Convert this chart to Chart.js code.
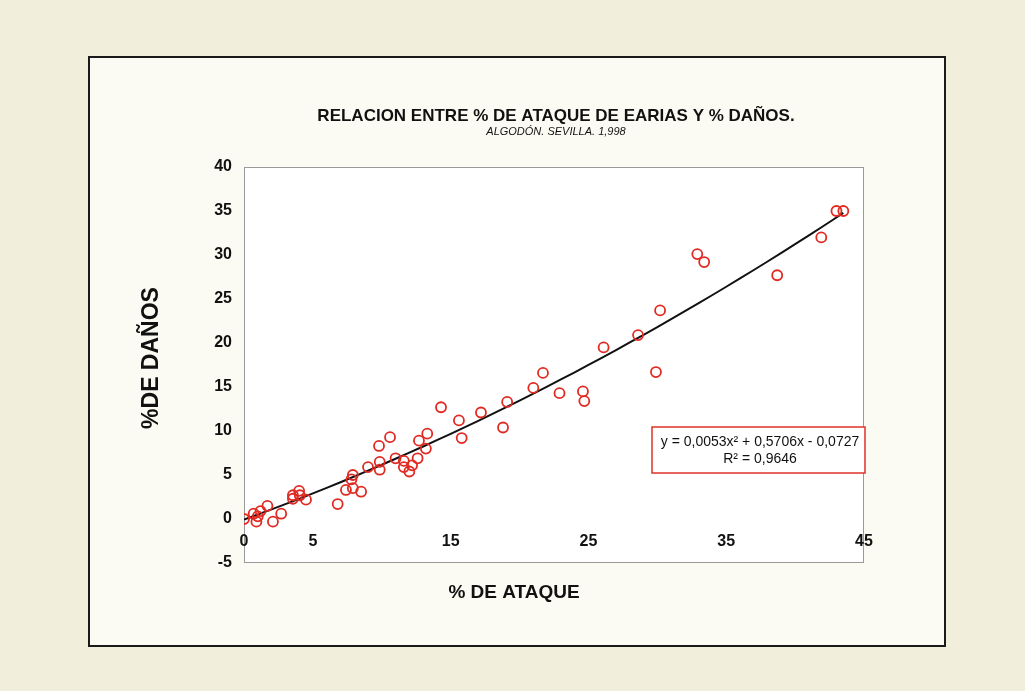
<!DOCTYPE html>
<html>
<head>
<meta charset="utf-8">
<script src="https://cdn.jsdelivr.net/npm/chart.js@4.4.1/dist/chart.umd.min.js"></script>
<style>
  html, body { margin: 0; padding: 0; background: #f1eedb; }
  #wrap { width: 1025px; height: 691px; position: relative; }
  canvas { display: block; }
</style>
</head>
<body>
<div id="wrap"><canvas id="c" width="1025" height="691"></canvas></div>
<script>
// ---- Data ----
const attackPct = [0, 0.7, 0.9, 1.0, 1.2, 1.7, 2.1, 2.7, 3.55, 3.55, 4.0, 4.05, 4.5,
  6.8, 7.4, 7.8, 7.9, 7.9, 8.5, 9.0, 9.8, 9.85, 9.85, 10.6, 11.0, 11.6, 11.6, 12.0,
  12.2, 12.6, 12.7, 13.2, 13.3, 14.3, 15.6, 15.8, 17.2, 18.8, 19.1, 21.0, 21.7, 22.9,
  24.6, 24.7, 26.1, 28.6, 29.9, 30.2, 32.9, 33.4, 38.7, 41.9, 43.0, 43.5];
const damagePct = [0, 0.6, -0.3, 0.3, 0.9, 1.5, -0.3, 0.6, 2.7, 2.3, 3.2, 2.7, 2.2,
  1.7, 3.3, 4.5, 5.0, 3.5, 3.1, 5.9, 8.3, 6.5, 5.6, 9.3, 6.9, 6.6, 5.9, 5.4,
  6.1, 6.9, 8.9, 8.0, 9.7, 12.7, 11.2, 9.2, 12.1, 10.4, 13.3, 14.9, 16.6, 14.3,
  14.5, 13.4, 19.5, 20.9, 16.7, 23.7, 30.1, 29.2, 27.7, 32.0, 35.0, 35.0];
// Trendline shown on the chart: y = 0,0053x² + 0,5706x - 0,0727
const trendCoefs = [0.0053, 0.5706, -0.0727];
const trendX = [0, 2, 4, 6, 8, 10, 12, 14, 16, 18, 20, 22, 24, 26, 28, 30, 32, 34, 36, 38, 40, 42, 43.5];
const xTickValues = [0, 5, 15, 25, 35, 45];
const yTickValues = [-5, 0, 5, 10, 15, 20, 25, 30, 35, 40];
const titleText = 'RELACION ENTRE % DE ATAQUE DE EARIAS Y % DAÑOS.';
const subtitleText = 'ALGODÓN. SEVILLA. 1,998';
const xTitle = '% DE ATAQUE';
const yTitle = '%DE DAÑOS';
const eqLine1 = 'y = 0,0053x² + 0,5706x - 0,0727';
const eqLine2 = 'R² = 0,9646';

const scatterPts = attackPct.map((x, i) => ({ x: x, y: damagePct[i] }));
const trendPts = trendX.map(x => ({ x: x, y: trendCoefs[0] * x * x + trendCoefs[1] * x + trendCoefs[2] }));

const FONT = '"Liberation Sans", Arial, sans-serif';

const decor = {
  id: 'decor',
  beforeDraw(chart) {
    const ctx = chart.ctx;
    const a = chart.chartArea;
    ctx.save();
    ctx.fillStyle = '#f1eedb';
    ctx.fillRect(0, 0, chart.width, chart.height);
    // outer chart frame
    ctx.fillStyle = '#fcfbf3';
    ctx.fillRect(89, 57, 856, 589);
    ctx.strokeStyle = '#1a1a1a';
    ctx.lineWidth = 2;
    ctx.strokeRect(89, 57, 856, 589);
    // plot area
    ctx.fillStyle = '#ffffff';
    ctx.fillRect(a.left, a.top, a.right - a.left, a.bottom - a.top);
    ctx.strokeStyle = '#9a9a9a';
    ctx.lineWidth = 1;
    ctx.strokeRect(a.left + 0.5, a.top + 0.5, a.right - a.left - 1, a.bottom - a.top - 1);
    ctx.restore();
  },
  afterDraw(chart) {
    const ctx = chart.ctx;
    ctx.save();
    ctx.fillStyle = '#111';
    ctx.textAlign = 'center';
    ctx.textBaseline = 'middle';
    ctx.font = 'bold 17px ' + FONT;
    ctx.fillText(titleText, 556, 116);
    ctx.font = 'italic 11px ' + FONT;
    ctx.fillText(subtitleText, 556, 132);
    ctx.font = 'bold 19px ' + FONT;
    ctx.fillText(xTitle, 514, 593);
    ctx.save();
    ctx.translate(152, 358);
    ctx.rotate(-Math.PI / 2);
    ctx.font = 'bold 23px ' + FONT;
    ctx.fillText(yTitle, 0, 0);
    ctx.restore();
    // equation box
    ctx.fillStyle = '#ffffff';
    ctx.fillRect(652, 427, 213, 46);
    ctx.strokeStyle = '#e0302a';
    ctx.lineWidth = 1.5;
    ctx.strokeRect(652, 427, 213, 46);
    ctx.fillStyle = '#111';
    ctx.font = '14px ' + FONT;
    ctx.fillText(eqLine1, 760, 442);
    ctx.fillText(eqLine2, 760, 459);
    ctx.restore();
  }
};

new Chart(document.getElementById('c'), {
  data: {
    datasets: [
      {
        type: 'line',
        label: 'Tendencia',
        data: trendPts,
        borderColor: '#111111',
        borderWidth: 2,
        pointRadius: 0,
        tension: 0.4,
        fill: false,
        order: 2
      },
      {
        type: 'scatter',
        label: 'Datos',
        data: scatterPts,
        pointStyle: 'circle',
        pointRadius: 5,
        pointBorderWidth: 1.8,
        borderColor: '#e02a22',
        backgroundColor: 'rgba(255,255,255,0)',
        order: 1
      }
    ]
  },
  options: {
    responsive: false,
    animation: false,
    devicePixelRatio: 1,
    layout: { padding: { left: 0, top: 167, right: 161, bottom: 128 } },
    plugins: { legend: { display: false }, tooltip: { enabled: false } },
    scales: {
      x: {
        type: 'linear',
        position: { y: 0 },
        min: 0, max: 45,
        grid: { display: false, drawTicks: false },
        border: { display: false },
        afterFit(s) { s.height = 0; },
        afterBuildTicks(s) { s.ticks = xTickValues.map(v => ({ value: v })); },
        ticks: { color: '#111', font: { family: FONT, size: 16, weight: 'bold' }, padding: 13, maxRotation: 0, autoSkip: false }
      },
      y: {
        type: 'linear',
        min: -5, max: 40,
        grid: { display: false, drawTicks: false },
        border: { display: false },
        afterFit(s) { s.width = 244; },
        afterBuildTicks(s) { s.ticks = yTickValues.map(v => ({ value: v })); },
        ticks: { color: '#111', font: { family: FONT, size: 16, weight: 'bold' }, padding: 12 }
      }
    }
  },
  plugins: [decor]
});
</script>
</body>
</html>
